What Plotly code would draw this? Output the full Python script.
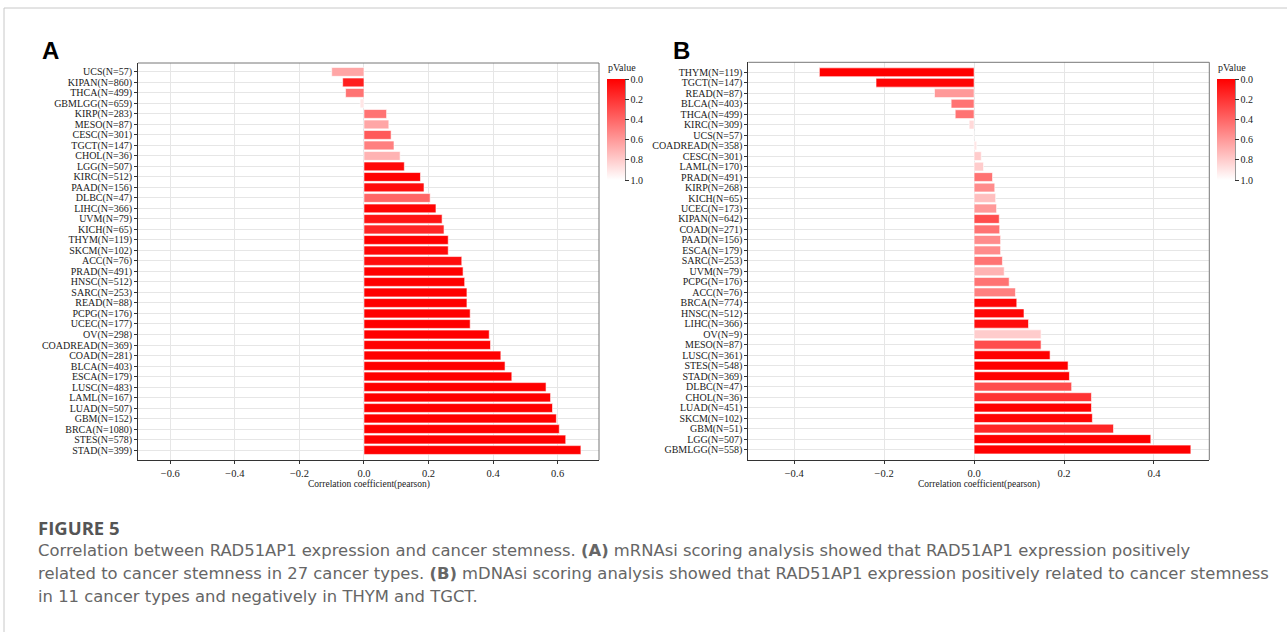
import plotly.graph_objects as go

# ---------------- Data ----------------
labels_a = ["UCS(N=57)", "KIPAN(N=860)", "THCA(N=499)", "GBMLGG(N=659)", "KIRP(N=283)",
            "MESO(N=87)", "CESC(N=301)", "TGCT(N=147)", "CHOL(N=36)", "LGG(N=507)",
            "KIRC(N=512)", "PAAD(N=156)", "DLBC(N=47)", "LIHC(N=366)", "UVM(N=79)",
            "KICH(N=65)", "THYM(N=119)", "SKCM(N=102)", "ACC(N=76)", "PRAD(N=491)",
            "HNSC(N=512)", "SARC(N=253)", "READ(N=88)", "PCPG(N=176)", "UCEC(N=177)",
            "OV(N=298)", "COADREAD(N=369)", "COAD(N=281)", "BLCA(N=403)", "ESCA(N=179)",
            "LUSC(N=483)", "LAML(N=167)", "LUAD(N=507)", "GBM(N=152)", "BRCA(N=1080)",
            "STES(N=578)", "STAD(N=399)"]
corr_a = [-0.100, -0.066, -0.057, -0.012, 0.070,
          0.077, 0.084, 0.093, 0.112, 0.125,
          0.175, 0.186, 0.205, 0.223, 0.242,
          0.248, 0.261, 0.261, 0.303, 0.307,
          0.312, 0.319, 0.319, 0.329, 0.329,
          0.388, 0.392, 0.424, 0.437, 0.458,
          0.564, 0.578, 0.584, 0.596, 0.605,
          0.625, 0.672]
pval_a = [0.65, 0.12, 0.45, 0.90, 0.45,
          0.65, 0.35, 0.50, 0.70, 0.03,
          0.00, 0.05, 0.40, 0.01, 0.08,
          0.15, 0.00, 0.03, 0.05, 0.00,
          0.00, 0.00, 0.00, 0.00, 0.00,
          0.00, 0.00, 0.00, 0.00, 0.00,
          0.00, 0.00, 0.00, 0.00, 0.00,
          0.00, 0.00]

labels_b = ["THYM(N=119)", "TGCT(N=147)", "READ(N=87)", "BLCA(N=403)", "THCA(N=499)",
            "KIRC(N=309)", "UCS(N=57)", "COADREAD(N=358)", "CESC(N=301)", "LAML(N=170)",
            "PRAD(N=491)", "KIRP(N=268)", "KICH(N=65)", "UCEC(N=173)", "KIPAN(N=642)",
            "COAD(N=271)", "PAAD(N=156)", "ESCA(N=179)", "SARC(N=253)", "UVM(N=79)",
            "PCPG(N=176)", "ACC(N=76)", "BRCA(N=774)", "HNSC(N=512)", "LIHC(N=366)",
            "OV(N=9)", "MESO(N=87)", "LUSC(N=361)", "STES(N=548)", "STAD(N=369)",
            "DLBC(N=47)", "CHOL(N=36)", "LUAD(N=451)", "SKCM(N=102)", "GBM(N=51)",
            "LGG(N=507)", "GBMLGG(N=558)"]
corr_b = [-0.344, -0.218, -0.088, -0.051, -0.042,
          -0.011, -0.002, 0.006, 0.016, 0.021,
          0.041, 0.046, 0.048, 0.050, 0.056,
          0.057, 0.059, 0.059, 0.063, 0.067,
          0.078, 0.092, 0.095, 0.111, 0.121,
          0.149, 0.149, 0.169, 0.209, 0.212,
          0.217, 0.261, 0.261, 0.263, 0.310,
          0.393, 0.482]
pval_b = [0.00, 0.02, 0.60, 0.45, 0.45,
          0.85, 0.97, 0.90, 0.80, 0.80,
          0.45, 0.55, 0.75, 0.60, 0.30,
          0.45, 0.55, 0.55, 0.45, 0.70,
          0.45, 0.50, 0.02, 0.02, 0.05,
          0.80, 0.30, 0.00, 0.00, 0.00,
          0.30, 0.20, 0.00, 0.02, 0.15,
          0.00, 0.00]

cb_ticks = [0.0, 0.2, 0.4, 0.6, 0.8, 1.0]

# ---------------- Layout constants ----------------
W, H = 1287, 632
def px_x(x): return x / W
def px_y(y): return 1 - y / H

SERIF = "Liberation Serif, Times New Roman, serif"
TXT = "#1a1a1a"
cscale = [[0.0, "#FFFFFF"], [1.0, "#FF0000"]]  # colour value = 1 - p

fig = go.Figure()

def add_panel(labels, corr, pval, xname, yname, cbx):
    fig.add_trace(go.Bar(
        x=corr, y=labels, orientation="h",
        xaxis=xname, yaxis=yname,
        marker=dict(
            color=[1 - p for p in pval], cmin=0, cmax=1, colorscale=cscale,
            line=dict(color="white", width=0.6),
            showscale=True,
            colorbar=dict(
                x=px_x(cbx), xanchor="left", xpad=0,
                y=px_y(79), yanchor="top", ypad=0,
                thickness=18, thicknessmode="pixels",
                len=101, lenmode="pixels",
                outlinewidth=0,
                tickmode="array",
                tickvals=[1 - t for t in cb_ticks],
                ticktext=[f"{t:.1f}" for t in cb_ticks],
                ticks="outside", ticklen=4, tickcolor="#333", tickwidth=1,
                tickfont=dict(family=SERIF, size=10, color=TXT),
            ),
        ),
        showlegend=False, hoverinfo="x+y",
    ))

add_panel(labels_a, corr_a, pval_a, "x", "y", 607)
add_panel(labels_b, corr_b, pval_b, "x2", "y2", 1217)

axis_common = dict(showline=True, linecolor="#333", linewidth=1,
                   ticks="outside", ticklen=3, tickcolor="#333",
                   showgrid=True, gridcolor="#E6E6E6", gridwidth=1,
                   zeroline=False, tickfont=dict(family=SERIF, size=10.5, color=TXT))
ylab_font = dict(family=SERIF, size=10, color=TXT)

xa_dom = [px_x(138), px_x(599)]
xb_dom = [px_x(748.3), px_x(1209.3)]
ya_dom = [px_y(460), px_y(63)]
yb_dom = [px_y(460), px_y(62.3)]

fig.update_layout(
    width=W, height=H, margin=dict(l=0, r=0, t=0, b=0),
    paper_bgcolor="white", plot_bgcolor="white",
    bargap=0.16,
    xaxis=dict(domain=xa_dom, anchor="y", range=[-0.70, 0.728],
               tickvals=[-0.6, -0.4, -0.2, 0, 0.2, 0.4, 0.6], tickformat=".1f",
               **axis_common),
    yaxis=dict(domain=ya_dom, anchor="x", type="category",
               tickmode="array", tickvals=labels_a, ticktext=labels_a,
               range=[36.95, -0.85], **{**axis_common, "tickfont": ylab_font}),
    xaxis2=dict(domain=xb_dom, anchor="y2", range=[-0.502, 0.523],
                tickvals=[-0.4, -0.2, 0, 0.2, 0.4], tickformat=".1f",
                **axis_common),
    yaxis2=dict(domain=yb_dom, anchor="x2", type="category",
                tickmode="array", tickvals=labels_b, ticktext=labels_b,
                range=[37.0, -0.95], **{**axis_common, "tickfont": ylab_font}),
)

shapes = []
# panel borders (top & right, grey)
for (x0, x1, ytop, ybot) in [(138, 599, 63, 460), (748.3, 1209.3, 62.3, 460)]:
    shapes.append(dict(type="line", xref="paper", yref="paper",
                       x0=px_x(x0), x1=px_x(x1), y0=px_y(ytop), y1=px_y(ytop),
                       line=dict(color="#777", width=1)))
    shapes.append(dict(type="line", xref="paper", yref="paper",
                       x0=px_x(x1), x1=px_x(x1), y0=px_y(ytop), y1=px_y(ybot),
                       line=dict(color="#777", width=1)))
# colorbar axis lines
for cx in (625, 1235):
    shapes.append(dict(type="line", xref="paper", yref="paper",
                       x0=px_x(cx), x1=px_x(cx), y0=px_y(79), y1=px_y(180),
                       line=dict(color="#333", width=1)))
# figure frame
shapes.append(dict(type="line", xref="paper", yref="paper",
                   x0=px_x(4), x1=1, y0=px_y(8), y1=px_y(8),
                   line=dict(color="#C8C8C8", width=1)))
shapes.append(dict(type="line", xref="paper", yref="paper",
                   x0=px_x(4), x1=px_x(4), y0=px_y(8), y1=0,
                   line=dict(color="#C8C8C8", width=1)))
fig.update_layout(shapes=shapes)

ann = []
# panel letters
ann.append(dict(text="<b>A</b>", x=px_x(40), y=px_y(51), xref="paper", yref="paper",
                xanchor="left", yanchor="middle", showarrow=False,
                font=dict(family="Liberation Sans, Arial, sans-serif", size=24, color="black")))
ann.append(dict(text="<b>B</b>", x=px_x(671), y=px_y(51), xref="paper", yref="paper",
                xanchor="left", yanchor="middle", showarrow=False,
                font=dict(family="Liberation Sans, Arial, sans-serif", size=24, color="black")))
# colorbar titles
for cx in (606, 1216):
    ann.append(dict(text="pValue", x=px_x(cx), y=px_y(67.5), xref="paper", yref="paper",
                    xanchor="left", yanchor="middle", showarrow=False,
                    font=dict(family=SERIF, size=10, color=TXT)))
# axis titles
for cx in ((138 + 599) / 2, (748.3 + 1209.3) / 2):
    ann.append(dict(text="Correlation coefficient(pearson)", x=px_x(cx), y=px_y(484),
                    xref="paper", yref="paper", xanchor="center", yanchor="middle",
                    showarrow=False, font=dict(family=SERIF, size=9.5, color=TXT)))
# caption
ann.append(dict(text="<b>FIGURE 5</b>", x=px_x(36), y=px_y(527), xref="paper", yref="paper",
                xanchor="left", yanchor="middle", showarrow=False,
                font=dict(family="Open Sans, sans-serif", size=18.5, color="#555")))
cap_lines = [
    "Correlation between RAD51AP1 expression and cancer stemness. <b>(A)</b> mRNAsi scoring analysis showed that RAD51AP1 expression positively",
    "related to cancer stemness in 27 cancer types. <b>(B)</b> mDNAsi scoring analysis showed that RAD51AP1 expression positively related to cancer stemness",
    "in 11 cancer types and negatively in THYM and TGCT.",
]
for i, line in enumerate(cap_lines):
    ann.append(dict(text=line, x=px_x(36), y=px_y(550 + 23.3 * i), xref="paper", yref="paper",
                    xanchor="left", yanchor="middle", showarrow=False,
                    font=dict(family="DejaVu Sans, sans-serif", size=16.4, color="#666")))
fig.update_layout(annotations=ann)

fig.write_html("out.html")
